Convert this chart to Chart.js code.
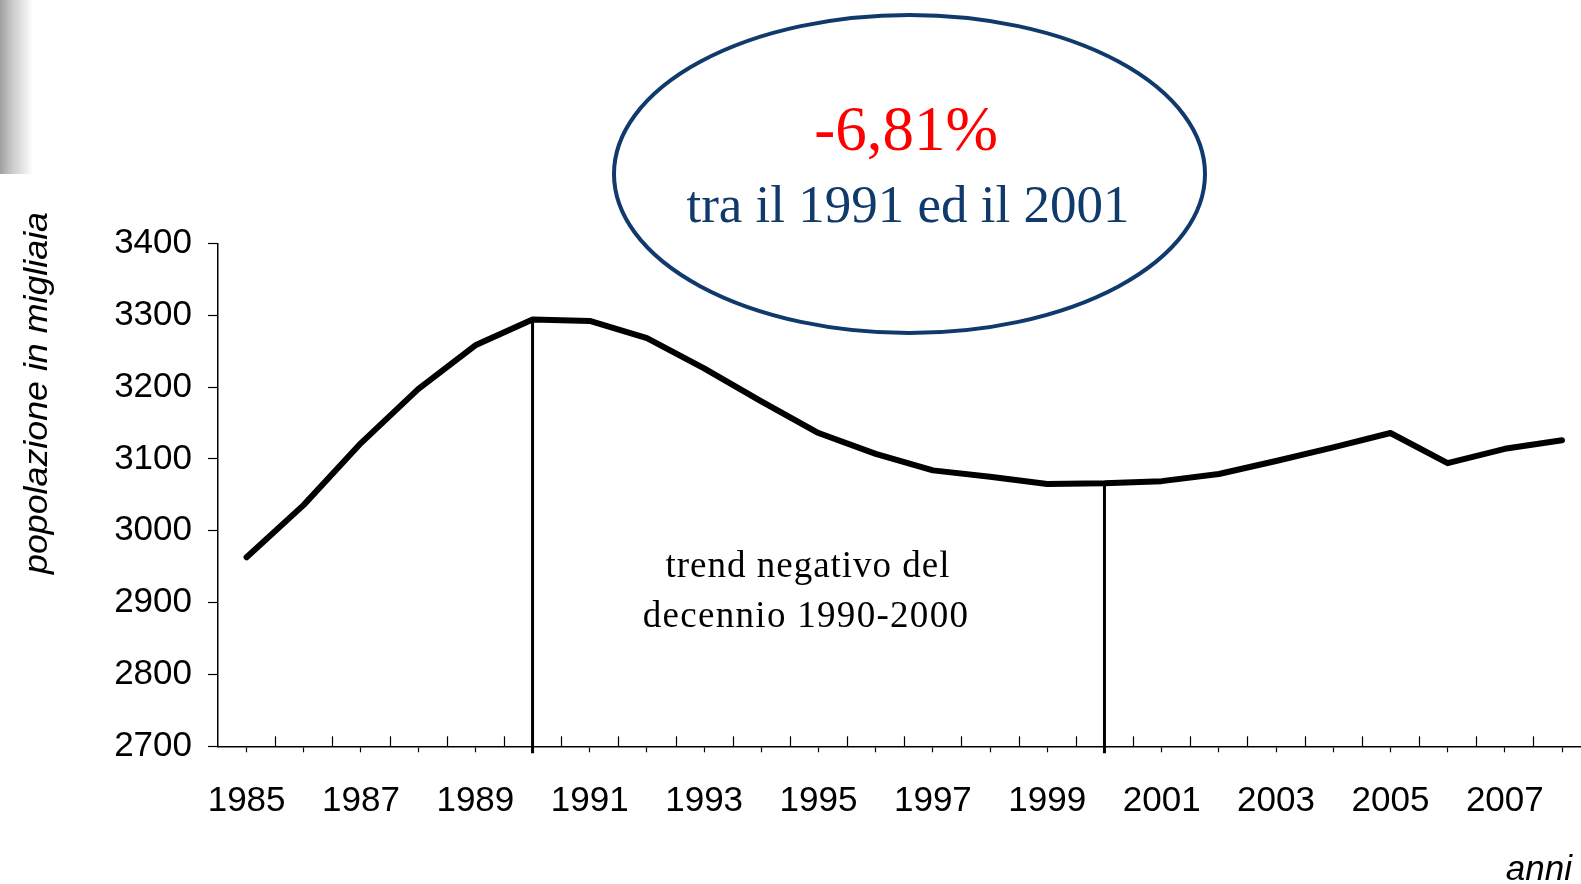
<!DOCTYPE html>
<html><head><meta charset="utf-8">
<script src="https://cdn.jsdelivr.net/npm/chart.js@4/dist/chart.umd.min.js"></script>
<style>
html,body{margin:0;padding:0;background:#fff;overflow:hidden;width:1581px;height:884px;}
#wrap{position:relative;width:1600px;height:884px;}
canvas{display:block;}
</style></head><body>
<div id="wrap"><canvas id="c" width="1600" height="884"></canvas></div>
<script>
const years = ['1985','1986','1987','1988','1989','1990','1991','1992','1993','1994','1995','1996',
               '1997','1998','1999','2000','2001','2002','2003','2004','2005','2006','2007','2008'];
const population = [2963,3036,3122,3197,3258,3294,3292,3268,3226,3180,3136,3107,
                    3084,3075,3065,3066,3069,3079,3097,3116,3136,3094,3114,3126];
const yMin = 2700, yMax = 3400, yStep = 100;
const markerYears = ['1990','2000'];
const yTitle = 'popolazione in migliaia';
const xTitle = 'anni';
const bubbleLine1 = '-6,81%';
const bubbleLine2 = 'tra il 1991 ed il 2001';
const noteLines = ['trend negativo del', 'decennio 1990-2000'];

const NAVY = '#0f3a6b';

const decor = {
  id: 'decor',
  beforeDraw(chart) {
    const ctx = chart.ctx;
    ctx.save();
    const g = ctx.createLinearGradient(0, 0, 33, 0);
    g.addColorStop(0, '#a0a0a0');
    g.addColorStop(0.4, '#cdcdcd');
    g.addColorStop(1, '#ffffff');
    ctx.fillStyle = g;
    ctx.fillRect(0, 0, 33, 174);
    ctx.restore();
  },
  beforeDatasetsDraw(chart) {
    const ctx = chart.ctx, x = chart.scales.x, y = chart.scales.y;
    const area = chart.chartArea;
    ctx.save();
    ctx.strokeStyle = '#000';
    ctx.lineWidth = 1.2;
    for (let i = 1; i < years.length; i++) {
      const px = (x.getPixelForValue(i - 1) + x.getPixelForValue(i)) / 2;
      ctx.beginPath();
      ctx.moveTo(Math.round(px) + 0.5, area.bottom);
      ctx.lineTo(Math.round(px) + 0.5, area.bottom - 10);
      ctx.stroke();
    }
    ctx.lineWidth = 3;
    markerYears.forEach(yr => {
      const i = years.indexOf(yr);
      const px = x.getPixelForValue(i);
      const py = y.getPixelForValue(population[i]);
      ctx.beginPath();
      ctx.moveTo(px, py - 2);
      ctx.lineTo(px, area.bottom + 7);
      ctx.stroke();
    });
    ctx.restore();
  },
  afterDraw(chart) {
    const ctx = chart.ctx;
    ctx.save();
    ctx.strokeStyle = NAVY;
    ctx.lineWidth = 4;
    ctx.beginPath();
    ctx.ellipse(909.5, 174, 295.5, 159, 0, 0, Math.PI * 2);
    ctx.stroke();
    ctx.textAlign = 'center';
    ctx.textBaseline = 'alphabetic';
    ctx.fillStyle = '#ff0000';
    ctx.font = '63px "Liberation Serif", "Times New Roman", serif';
    ctx.fillText(bubbleLine1, 906, 150);
    ctx.fillStyle = NAVY;
    ctx.font = '53px "Liberation Serif", "Times New Roman", serif';
    ctx.fillText(bubbleLine2, 908, 222);
    ctx.fillStyle = '#000';
    ctx.font = '37px "Liberation Serif", "Times New Roman", serif';
    ctx.letterSpacing = '1px';
    ctx.fillText(noteLines[0], 808, 577);
    ctx.letterSpacing = '1.3px';
    ctx.fillText(noteLines[1], 806, 627);
    ctx.letterSpacing = '0px';
    ctx.save();
    ctx.translate(47, 393);
    ctx.rotate(-Math.PI / 2);
    ctx.font = 'italic 33px "Liberation Sans", Arial, sans-serif';
    const w = ctx.measureText(yTitle).width;
    ctx.scale(362 / w, 1);
    ctx.textAlign = 'center';
    ctx.fillText(yTitle, 0, 0);
    ctx.restore();
    ctx.font = 'italic 35px "Liberation Sans", Arial, sans-serif';
    ctx.textAlign = 'right';
    ctx.fillText(xTitle, 1572, 880);
    ctx.restore();
  }
};

new Chart(document.getElementById('c'), {
  type: 'line',
  data: {
    labels: years,
    datasets: [{
      data: population,
      borderColor: '#000',
      borderWidth: 6,
      pointRadius: 0,
      tension: 0,
      borderJoinStyle: 'round',
      borderCapStyle: 'round',
      fill: false
    }]
  },
  options: {
    responsive: false,
    devicePixelRatio: 1,
    animation: false,
    layout: { padding: { top: 243.3, right: 9.4, bottom: 0, left: 0 } },
    plugins: { legend: { display: false }, tooltip: { enabled: false } },
    scales: {
      x: {
        type: 'category',
        offset: true,
        grid: { display: true, drawOnChartArea: false, drawTicks: true, tickLength: 6,
                tickColor: '#000', tickWidth: 1.2, offset: false },
        border: { color: '#000', width: 1.5 },
        ticks: {
          autoSkip: false, maxRotation: 0, minRotation: 0, padding: 28,
          color: '#000',
          font: { family: '"Liberation Sans", Arial, sans-serif', size: 35 },
          callback: (v, i) => (i % 2 === 0 ? years[i] : '')
        },
        afterFit: s => { s.height = 884 - 746.3; }
      },
      y: {
        min: yMin, max: yMax,
        grid: { display: true, drawOnChartArea: false, drawTicks: true, tickLength: 10,
                tickColor: '#000', tickWidth: 1.2 },
        border: { color: '#000', width: 1.5 },
        ticks: {
          stepSize: yStep, padding: 16, color: '#000',
          font: { family: '"Liberation Sans", Arial, sans-serif', size: 35 },
          callback: v => String(v)
        },
        afterFit: s => { s.width = 218; }
      }
    }
  },
  plugins: [decor]
});
</script>
</body></html>
